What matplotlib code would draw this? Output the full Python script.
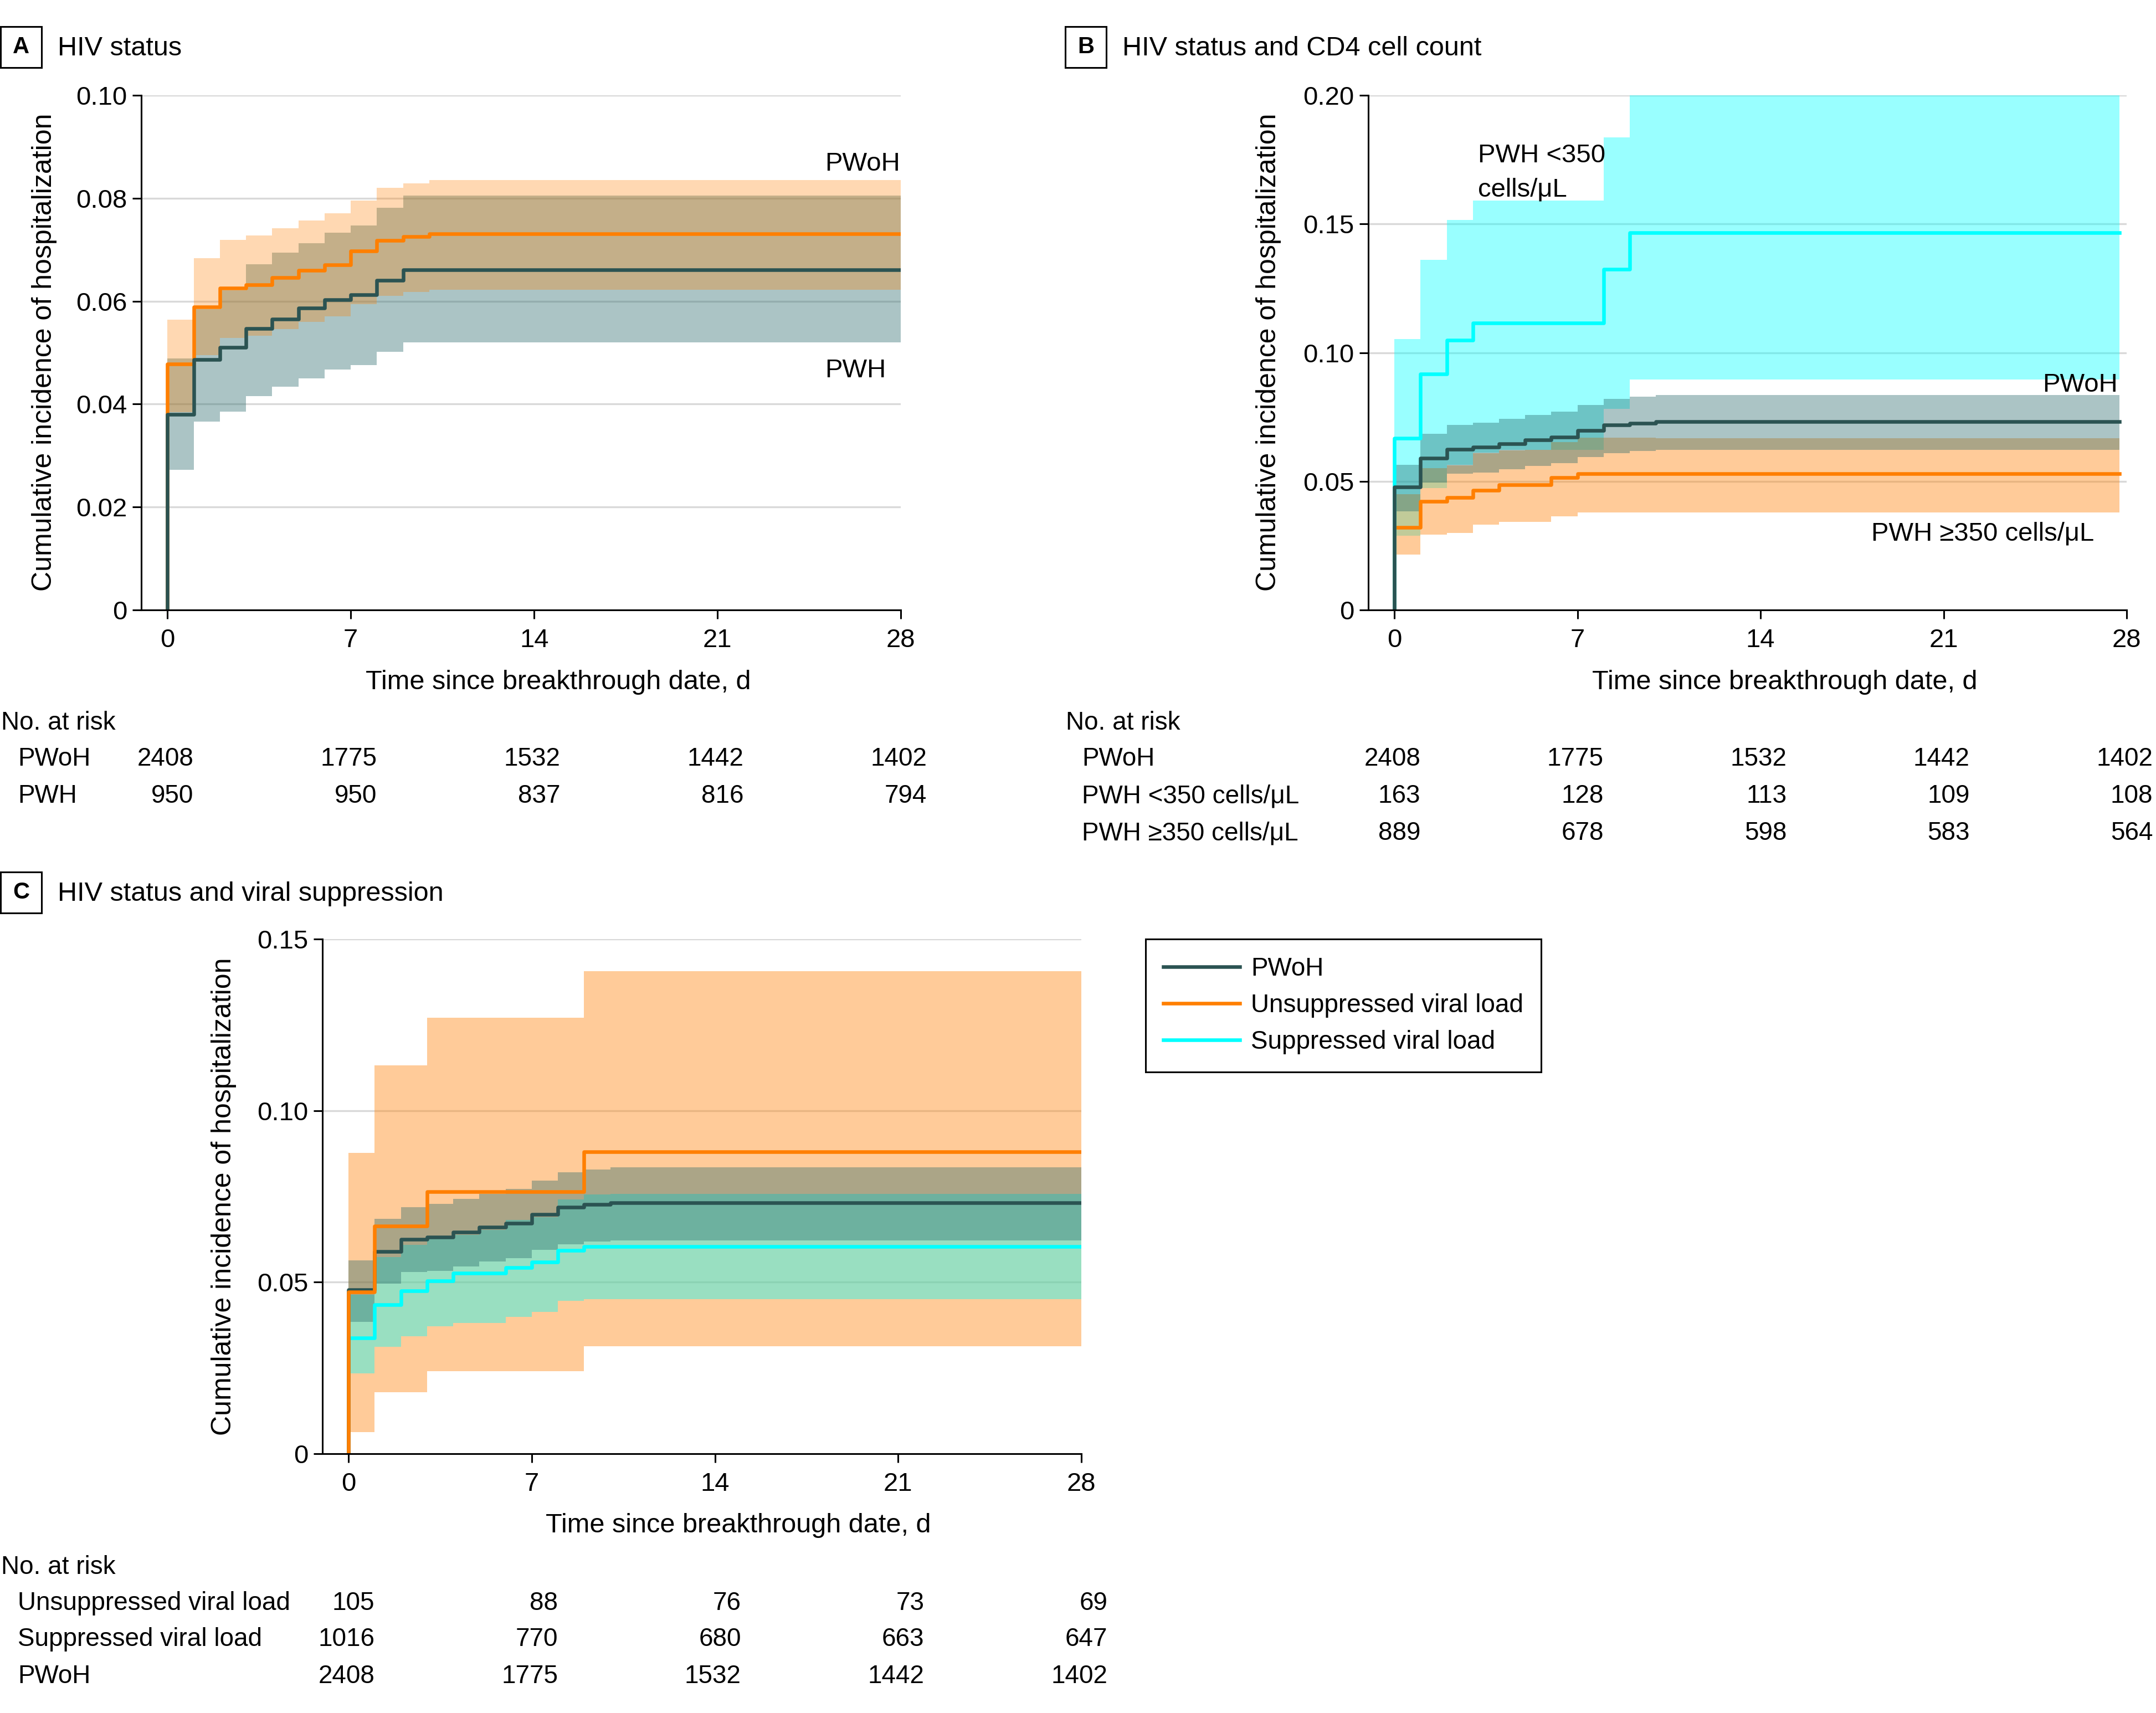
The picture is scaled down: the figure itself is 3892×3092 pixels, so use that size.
import numpy as np
import matplotlib
matplotlib.use('Agg')
import matplotlib.pyplot as plt
from matplotlib import transforms
from matplotlib.patches import Rectangle

plt.rcParams['font.family'] = ['Liberation Sans', 'DejaVu Sans']

# event days (steps), x ticks
days = [0, 1, 2, 3, 4, 5, 6, 7, 8, 9, 10]
xticks = [0, 7, 14, 21, 28]

# PWoH (same reference group in all panels)
pwoh_est = [0.0478, 0.0589, 0.0625, 0.0632, 0.0646, 0.0660, 0.0671, 0.0697, 0.0718, 0.0726, 0.0731]
pwoh_hi = [0.0564, 0.0684, 0.0719, 0.0728, 0.0742, 0.0757, 0.0771, 0.0796, 0.0820, 0.0829, 0.0835]
pwoh_lo = [0.0384, 0.0495, 0.0529, 0.0533, 0.0546, 0.0560, 0.0570, 0.0594, 0.0610, 0.0618, 0.0622]

# panel A: PWH
pwh_est = [0.0380, 0.0487, 0.0510, 0.0547, 0.0565, 0.0587, 0.0603, 0.0613, 0.0641, 0.0661, 0.0661]
pwh_hi = [0.0489, 0.0585, 0.0621, 0.0672, 0.0694, 0.0713, 0.0733, 0.0747, 0.0781, 0.0805, 0.0805]
pwh_lo = [0.0272, 0.0366, 0.0385, 0.0415, 0.0434, 0.0450, 0.0467, 0.0476, 0.0502, 0.0520, 0.0520]

# panel B: CD4 <350 and >=350
cd4lo_est = [0.0668, 0.0917, 0.1048, 0.1115, 0.1115, 0.1115, 0.1115, 0.1115, 0.1323, 0.1466, 0.1466]
cd4lo_hi = [0.1053, 0.1361, 0.1515, 0.1590, 0.1590, 0.1590, 0.1590, 0.1590, 0.1837, 0.2000, 0.2000]
cd4lo_lo = [0.0289, 0.0474, 0.0563, 0.0612, 0.0622, 0.0623, 0.0623, 0.0623, 0.0781, 0.0896, 0.0896]
cd4hi_est = [0.0321, 0.0422, 0.0436, 0.0465, 0.0487, 0.0487, 0.0515, 0.0530, 0.0529, 0.0529, 0.0529]
cd4hi_hi = [0.0451, 0.0551, 0.0562, 0.0610, 0.0621, 0.0622, 0.0652, 0.0670, 0.0670, 0.0669, 0.0668]
cd4hi_lo = [0.0216, 0.0293, 0.0300, 0.0332, 0.0343, 0.0343, 0.0364, 0.0379, 0.0379, 0.0379, 0.0379]

# panel C: viral load
unsup_est = [0.0472, 0.0663, 0.0663, 0.0764, 0.0764, 0.0764, 0.0764, 0.0764, 0.0764, 0.0880, 0.0880]
unsup_hi = [0.0877, 0.1132, 0.1132, 0.1270, 0.1270, 0.1270, 0.1270, 0.1270, 0.1270, 0.1406, 0.1406]
unsup_lo = [0.0063, 0.0180, 0.0180, 0.0241, 0.0241, 0.0241, 0.0241, 0.0241, 0.0241, 0.0313, 0.0313]
sup_est = [0.0337, 0.0434, 0.0475, 0.0504, 0.0526, 0.0526, 0.0542, 0.0558, 0.0592, 0.0604, 0.0604]
sup_hi = [0.0464, 0.0574, 0.0609, 0.0626, 0.0638, 0.0652, 0.0682, 0.0690, 0.0741, 0.0756, 0.0757]
sup_lo = [0.0234, 0.0312, 0.0343, 0.0372, 0.0381, 0.0381, 0.0399, 0.0414, 0.0445, 0.0451, 0.0451]

# numbers at risk
risk_a = [('PWoH', [2408, 1775, 1532, 1442, 1402]),
          ('PWH', [950, 950, 837, 816, 794])]
risk_b = [('PWoH', [2408, 1775, 1532, 1442, 1402]),
          ('PWH <350 cells/μL', [163, 128, 113, 109, 108]),
          ('PWH ≥350 cells/μL', [889, 678, 598, 583, 564])]
risk_c = [('Unsuppressed viral load', [105, 88, 76, 73, 69]),
          ('Suppressed viral load', [1016, 770, 680, 663, 647]),
          ('PWoH', [2408, 1775, 1532, 1442, 1402])]

DARK = '#2b5352'
DARK_BAND = '#2d6c6e'
ORANGE = '#ff7f00'
CYAN = '#00ffff'

W, H = 3892, 3092
fig = plt.figure(figsize=(W / 100, H / 100), dpi=100)


def fx(px):
    return px / W


def fy(py):
    return 1 - py / H


def make_ax(l, r, t, b, ymax, yt, ylab):
    ax = fig.add_axes([fx(l), fy(b), fx(r) - fx(l), fy(t) - fy(b)])
    ax.set_xlim(-1, 28)
    ax.set_ylim(0, ymax)
    ax.set_xticks(xticks)
    ax.set_yticks(yt)
    ax.set_yticklabels(ylab)
    for s in ['top', 'right']:
        ax.spines[s].set_visible(False)
    for s in ['left', 'bottom']:
        ax.spines[s].set_linewidth(2.2)
    ax.tick_params(length=11.5, width=2.2, labelsize=34)
    ax.tick_params(axis='x', pad=12)
    ax.tick_params(axis='y', pad=7)
    ax.yaxis.grid(True, color='#d9d9d9', lw=2.4)
    ax.set_axisbelow(True)
    return ax


def band(ax, t_end, lo, hi, color, alpha):
    t = days + [t_end]
    ax.fill_between(t, lo + [lo[-1]], hi + [hi[-1]], step='post',
                    color=color, alpha=alpha, lw=0)


def curve(ax, t_end, est, color, label=None):
    t = [0] + days + [t_end]
    y = [0] + est + [est[-1]]
    ax.step(t, y, where='post', color=color, lw=4.7, label=label)


def title(x_box, y_box, letter, text):
    fig.add_artist(Rectangle((fx(x_box), fy(y_box + 74)), fx(74), 74 / H,
                             transform=fig.transFigure, fill=False, lw=2.2, ec='black'))
    fig.text(fx(x_box + 37), fy(y_box + 37), letter, ha='center', va='center',
             fontsize=30, fontweight='bold')
    fig.text(fx(x_box + 103), fy(y_box + 40), text, ha='left', va='center', fontsize=35)


def risk_table(ax, x_head, x_rows, y_head, rows, ys):
    fig.text(fx(x_head), fy(y_head + 5), 'No. at risk', ha='left', va='center', fontsize=33)
    tr = transforms.blended_transform_factory(ax.transData, fig.transFigure)
    for (name, vals), y in zip(rows, ys):
        fig.text(fx(x_rows), fy(y + 5), name, ha='left', va='center', fontsize=33)
        for xt, v in zip(xticks, vals):
            ax.text(xt + 1.0, fy(y + 5), str(v), transform=tr, ha='right', va='center',
                    fontsize=33, clip_on=False)


ylabel = 'Cumulative incidence of hospitalization'
xlabel = 'Time since breakthrough date, d'

# ---------------- A ----------------
axA = make_ax(255, 1626, 172, 1101, 0.10, [0, 0.02, 0.04, 0.06, 0.08, 0.10],
              ['0', '0.02', '0.04', '0.06', '0.08', '0.10'])
band(axA, 28, pwh_lo, pwh_hi, DARK_BAND, 0.4)
band(axA, 28, pwoh_lo, pwoh_hi, ORANGE, 0.3)
curve(axA, 28, pwoh_est, ORANGE)
curve(axA, 28, pwh_est, DARK)
axA.text(25.1, 0.0866, 'PWoH', fontsize=34, va='center', ha='left')
axA.text(25.1, 0.0465, 'PWH', fontsize=34, va='center', ha='left')
title(1, 48, 'A', 'HIV status')
fig.text(fx(80), fy(636), ylabel, rotation=90, ha='center', va='center', fontsize=36)
fig.text(fx(1008), fy(1231), xlabel, ha='center', va='center', fontsize=35)
risk_table(axA, 2, 32, 1300, risk_a, [1365, 1432])

# ---------------- B ----------------
axB = make_ax(2470, 3839, 172, 1101, 0.20, [0, 0.05, 0.10, 0.15, 0.20],
              ['0', '0.05', '0.10', '0.15', '0.20'])
tB = 27.73
band(axB, tB, cd4lo_lo, cd4lo_hi, CYAN, 0.4)
band(axB, tB, cd4hi_lo, cd4hi_hi, ORANGE, 0.4)
band(axB, tB, pwoh_lo, pwoh_hi, DARK_BAND, 0.4)
curve(axB, tB, cd4hi_est, ORANGE)
curve(axB, tB, cd4lo_est, CYAN)
curve(axB, tB, pwoh_est, DARK)
axB.text(3.2, 0.1766, 'PWH <350', fontsize=34, va='center', ha='left')
axB.text(3.2, 0.1633, 'cells/μL', fontsize=34, va='center', ha='left')
axB.text(27.65, 0.0875, 'PWoH', fontsize=34, va='center', ha='right')
axB.text(26.76, 0.0295, 'PWH ≥350 cells/μL', fontsize=34, va='center', ha='right')
title(1923, 48, 'B', 'HIV status and CD4 cell count')
fig.text(fx(2290), fy(636), ylabel, rotation=90, ha='center', va='center', fontsize=36)
fig.text(fx(3222), fy(1231), xlabel, ha='center', va='center', fontsize=35)
risk_table(axB, 1924, 1953, 1300, risk_b, [1365, 1432, 1499])

# ---------------- C ----------------
axC = make_ax(582, 1952, 1695, 2624, 0.15, [0, 0.05, 0.10, 0.15],
              ['0', '0.05', '0.10', '0.15'])
band(axC, 28, unsup_lo, unsup_hi, ORANGE, 0.4)
band(axC, 28, sup_lo, sup_hi, CYAN, 0.4)
band(axC, 28, pwoh_lo, pwoh_hi, DARK_BAND, 0.4)
curve(axC, 28, sup_est, CYAN, 'Suppressed viral load')
curve(axC, 28, pwoh_est, DARK, 'PWoH')
curve(axC, 28, unsup_est, ORANGE, 'Unsuppressed viral load')
title(1, 1574, 'C', 'HIV status and viral suppression')
fig.text(fx(404), fy(2160), ylabel, rotation=90, ha='center', va='center', fontsize=36)
fig.text(fx(1333), fy(2754), xlabel, ha='center', va='center', fontsize=35)
risk_table(axC, 2, 32, 2824, risk_c, [2889, 2954, 3021])

h, l = axC.get_legend_handles_labels()
order = [1, 2, 0]
leg = axC.legend([h[i] for i in order], [l[i] for i in order], loc='upper left',
                 bbox_to_anchor=(fx(2068), fy(1695)), bbox_transform=fig.transFigure,
                 frameon=True, fancybox=False, edgecolor='black', framealpha=1,
                 fontsize=33, handlelength=3.0, handletextpad=0.45, labelspacing=0.48,
                 borderpad=0.7, borderaxespad=0)
leg.get_frame().set_linewidth(2.2)

fig.savefig('out.png', dpi=100)
